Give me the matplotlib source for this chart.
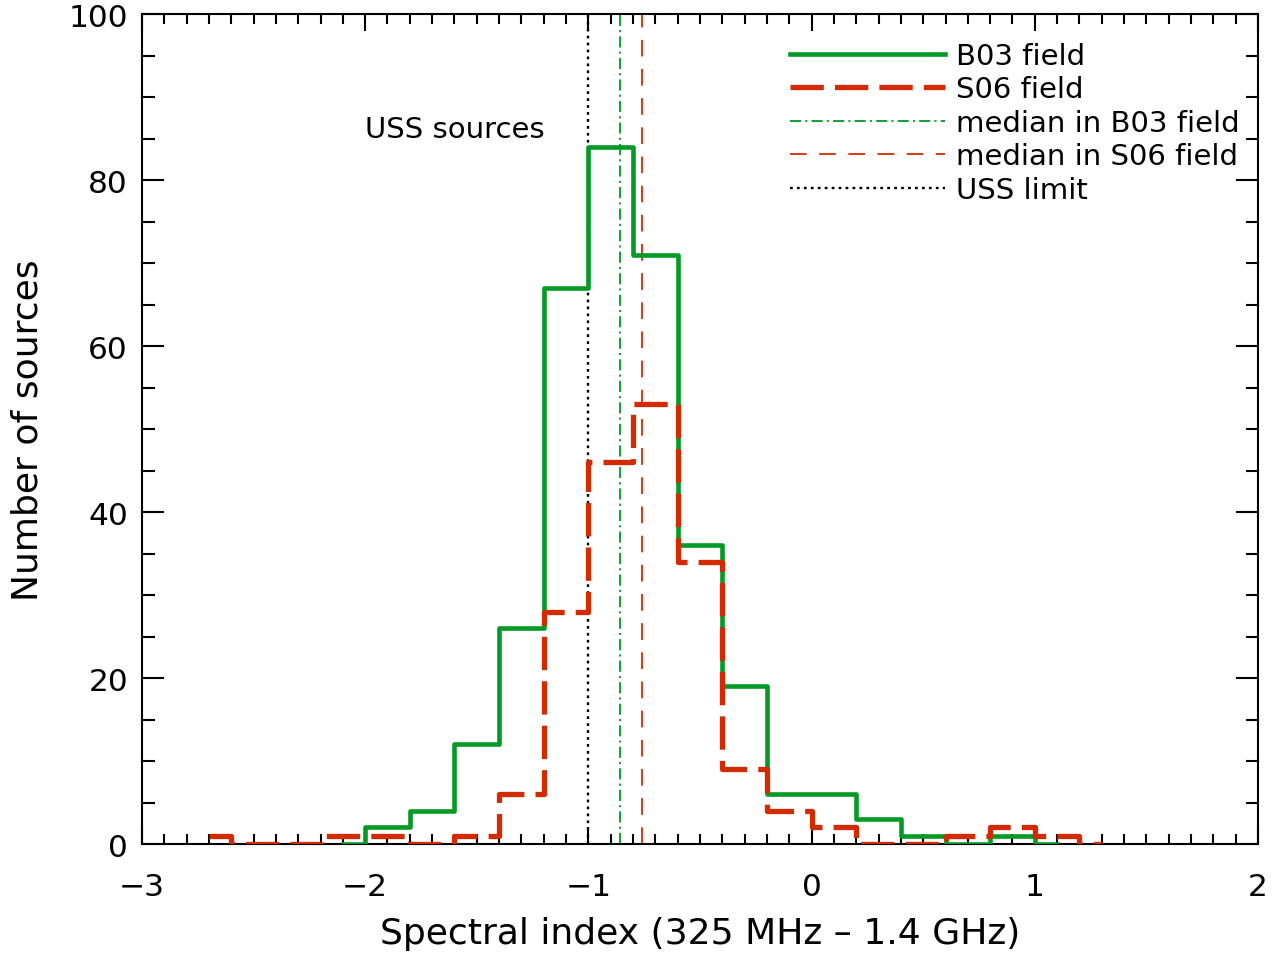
import matplotlib
matplotlib.use("Agg")
import matplotlib.pyplot as plt
from matplotlib.ticker import MultipleLocator

plt.rcParams['font.family'] = ['DejaVu Sans']
plt.rcParams['lines.scale_dashes'] = False

# Bin centres (bin width 0.2) and counts
b03_centers = [-2.1, -1.9, -1.7, -1.5, -1.3, -1.1, -0.9, -0.7, -0.5, -0.3, -0.1,
               0.1, 0.3, 0.5, 0.7, 0.9, 1.1]
b03_counts = [0, 2, 4, 12, 26, 67, 84, 71, 36, 19, 6, 6, 3, 1, 0, 1, 0]

s06_centers = [-2.7, -2.5, -2.3, -2.1, -1.9, -1.7, -1.5, -1.3, -1.1, -0.9, -0.7,
               -0.5, -0.3, -0.1, 0.1, 0.3, 0.5, 0.7, 0.9, 1.1, 1.3]
s06_counts = [1, 0, 0, 1, 1, 0, 1, 6, 28, 46, 53, 34, 9, 4, 2, 0, 0, 1, 2, 1, 0]

median_b03 = -0.86
median_s06 = -0.76
uss_limit = -1.0

green = '#009A25'
red = '#D42A00'

fig = plt.figure(figsize=(12.72, 9.62), dpi=100)
ax = fig.add_axes([0.1116, 0.1216, 0.8774, 0.8628])

ax.step(b03_centers, b03_counts, where='mid', color=green, lw=3.3,
        label='B03 field', zorder=3)
ax.step(s06_centers, s06_counts, where='mid', color=red, lw=3.8,
        dashes=(24, 8), label='S06 field', zorder=4)
ax.axvline(median_b03, color=green, lw=1.3, dashes=(8, 3, 1.5, 3),
           label='median in B03 field', zorder=2)
ax.axvline(median_s06, color=red, lw=1.3, dashes=(12, 9),
           label='median in S06 field', zorder=2)
ax.axvline(uss_limit, color='black', lw=1.7, dashes=(2, 3),
           label='USS limit', zorder=2)

ax.text(-1.195, 86.1, 'USS sources', fontsize=21, ha='right', va='center')

ax.set_xlim(-3, 2)
ax.set_ylim(0, 100)
ax.xaxis.set_major_locator(MultipleLocator(1))
ax.xaxis.set_minor_locator(MultipleLocator(0.1))
ax.yaxis.set_major_locator(MultipleLocator(20))
ax.yaxis.set_minor_locator(MultipleLocator(5))
ax.tick_params(axis='both', which='both', direction='in', top=True, right=True,
               width=1.5, labelsize=22.5)
ax.tick_params(axis='x', which='major', length=12, pad=20)
ax.tick_params(axis='x', which='minor', length=7)
ax.tick_params(axis='y', which='major', length=16, pad=10)
ax.tick_params(axis='y', which='minor', length=9)
for s in ax.spines.values():
    s.set_linewidth(1.5)

ax.set_xlabel('Spectral index (325 MHz \u2013 1.4 GHz)', fontsize=26, labelpad=11)
ax.set_ylabel('Number of sources', fontsize=26, labelpad=17)

leg = ax.legend(loc='upper left', bbox_to_anchor=(0.5806, 0.9666), frameon=False,
                fontsize=21, handlelength=5.3, handletextpad=0.4,
                labelspacing=0.19, borderaxespad=0.0, borderpad=0.0)

fig.savefig('out.png', dpi=100)
